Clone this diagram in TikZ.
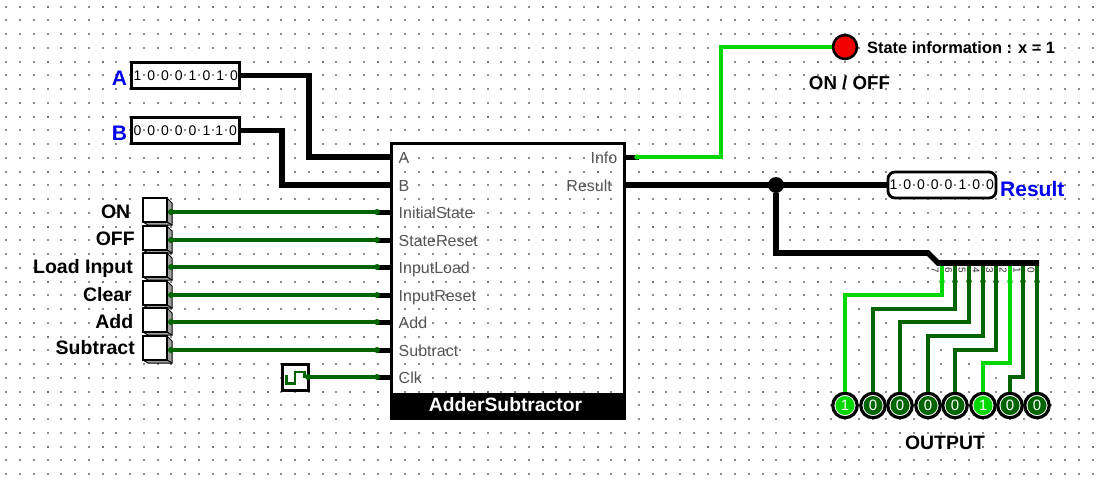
\documentclass[tikz,border=0pt]{standalone}
\usepackage{fontspec}
\setmainfont{Liberation Sans}
\newfontfamily\regfont[LetterSpace=43]{Liberation Sans}
\definecolor{wdark}{RGB}{0,100,0}
\definecolor{wlight}{RGB}{0,215,0}
\definecolor{pinblue}{RGB}{0,0,240}
\definecolor{pingrey}{RGB}{85,85,85}
\tikzset{
  bus/.style={line width=5.6pt,black},
  stub/.style={line width=5pt,black},
  wd/.style={line width=4.4pt,wdark},
  wl/.style={line width=4.4pt,wlight},
  reg/.style={draw,line width=2.8pt,minimum width=108pt,minimum height=26pt,inner sep=0pt},
  regtxt/.style={font=\fontsize{14}{14}\regfont,anchor=west,inner sep=0pt},
  bluelbl/.style={font=\fontsize{21}{21}\selectfont\bfseries,text=pinblue,inner sep=0pt},
  lbl/.style={font=\fontsize{18.7}{19}\selectfont\bfseries,inner sep=0pt},
  inlbl/.style={font=\fontsize{19.5}{20}\selectfont\bfseries,inner sep=0pt,anchor=base east},
  pinl/.style={font=\fontsize{16}{18}\selectfont,text=pingrey,anchor=base west,inner sep=0pt},
  pinr/.style={font=\fontsize{16}{18}\selectfont,text=pingrey,anchor=base east,inner sep=0pt},
  inbox/.style={draw,line width=1.6pt,fill=white,minimum width=24pt,minimum height=24pt,inner sep=0pt},
  led/.style={circle,draw,line width=3.2pt,fill=white,minimum size=24.5pt,inner sep=0pt},
  ledin/.style={circle,minimum size=19pt,inner sep=0pt,text=white,font=\fontsize{15}{15}\selectfont},
  bitl/.style={font=\fontsize{10}{10}\selectfont,rotate=-90,inner sep=0pt,text=black!80},
  jdot/.style={circle,fill,inner sep=0pt,minimum size=#1},
}
\newcommand{\inputpin}[5]{% name, y, label, label right x, label baseline y
  \fill[gray!75] (167,#2-14) -- (172,#2-9) -- (172,#2+13) -- (167,#2+10) -- cycle;
  \fill[gray!75] (143,#2+10) -- (167,#2+10) -- (172,#2+13) -- (148,#2+13) -- cycle;
  \draw[line width=1pt] (167,#2-14) -- (172,#2-9) -- (172,#2+13) -- (148,#2+13) -- (143,#2+10);
  \draw[line width=1pt] (167,#2+10) -- (172,#2+13);
  \node[inbox] (#1) at (155,#2-2) {};
  \coordinate (#1o) at (171,#2);
  \node[inlbl] at (#4,#5) {#3};
}
\begin{document}
\begin{tikzpicture}[x=1pt,y=-1pt]
\useasboundingbox (0,0) rectangle (1101,480);
\fill[white] (0,0) rectangle (1101,480);
% dotted grid
\foreach \i in {0,...,79}{
  \foreach \j in {0,...,34}{
    \pgfmathsetmacro{\gx}{round(6.45+13.75*\i)}
    \pgfmathsetmacro{\gy}{round(6.7+13.75*\j)}
    \pgfmathtruncatemacro{\dk}{(mod(\i,4)==3 && mod(\j,4)==0) ? 1 : 0}
    \ifnum\dk=1
      \fill[black!55] (\gx-1,\gy-1) rectangle (\gx+1,\gy+1);
    \else
      \fill[black!45] (\gx-.6,\gy-.6) rectangle (\gx+.6,\gy+.6);
    \fi
  }
}
% registers
\node[reg] (regA) at (185.5,75.5) {};
\node[regtxt] at (133.3,75.5) {10001010};
\node[reg] (regB) at (185.5,130.5) {};
\node[regtxt] at (133.3,130.5) {00000110};
\node[bluelbl] at (119.5,78) {A};
\node[bluelbl] at (119.5,133) {B};
% block
\node[draw,line width=3pt,minimum width=233pt,minimum height=275pt,inner sep=0pt] (blk) at (508,281) {};
\node[fill=black,minimum width=233pt,minimum height=26pt,inner sep=0pt] (title) at (508,405.5) {};
\node[text=white,font=\fontsize{19.3}{19}\selectfont\bfseries,inner sep=0pt] at (505.5,405) {AdderSubtractor};
% block pins
\foreach \nm/\yy/\tx in {pA/157/A,pB/185/B,pI/212/InitialState,pS/240/StateReset,pL/267/InputLoad,pR/295/InputReset,pAd/322/Add,pSu/350/Subtract,pC/377/Clk}{
  \coordinate (\nm) at (391,\yy);
  \coordinate (\nm s) at (377,\yy);
  \node[pinl] at (398.5,\yy+6.3) {\tx};
}
\coordinate (pInfo) at (625,157);
\coordinate (pRes) at (625,185);
\node[pinr] at (617.5,163.3) {Info};
\node[pinr] at (612,191.3) {Result};
\draw[stub] (pInfo) -- ++(14,0) coordinate (pInfoE);
\draw[stub] (pC) -- (pCs);
\foreach \p in {pI,pS,pL,pR,pAd,pSu}{\draw[stub] (\p) -- (\p s);}
% A, B buses
\draw[bus,line join=miter] (regA.east) -| (309,157) -- (pA);
\draw[bus,line join=miter] (regB.east) -| (282,185) -- (pB);
% inputs
\inputpin{iON}{212}{ON}{130.5}{218.7}
\inputpin{iOFF}{240}{OFF}{135}{245}
\inputpin{iLoad}{267}{Load Input}{133}{273}
\inputpin{iClr}{295}{Clear}{132}{301}
\inputpin{iAdd}{322}{Add}{133.5}{328}
\inputpin{iSub}{350}{Subtract}{135}{354}
\foreach \a/\b in {iON/pI,iOFF/pS,iLoad/pL,iClr/pR,iAdd/pAd,iSub/pSu}{
  \draw[wd] (\a o) -- (\b s);
  \fill[wdark] (\a o) circle (3);
  \fill[wdark] (\b s) circle (3);
}
% clock
\node[draw,line width=3pt,minimum size=26pt,inner sep=0pt] (clk) at (295,377) {};
\draw[wdark,line width=2.6pt] (286.7,375) -- (286.7,383.5) -- (295,383.5) -- (295,372) -- (304.5,372) -- (304.5,378);
\draw[wd] (clk.east) -- (pCs);
\fill[wdark] (308,377) circle (3);
\fill[wdark] (pCs) circle (3);
% info
\node[circle,draw,line width=2.6pt,fill=red!95!black,minimum size=24pt,inner sep=0pt] (ledR) at (845,47) {};
\draw[wl] (637,157) -- (721,157) -- (721,47) -- (ledR.west);
\fill[wlight] (637,157) circle (2.7);
\node[anchor=west,font=\fontsize{16.4}{16}\selectfont\bfseries,inner sep=0pt] at (867,47.5) {State information : x = 1};
\node[lbl] at (849.5,82.5) {ON / OFF};
% result
\node[draw,line width=2.8pt,rounded corners=7pt,minimum width=108pt,minimum height=26pt,inner sep=0pt] (regR) at (942,185) {};
\node[regtxt] at (889.3,185) {10000100};
\node[bluelbl,anchor=west] at (1000,189) {Result};
\draw[bus] (pRes) -- (regR.west);
\node[jdot=16pt] (jn) at (776,185) {};
% splitter
\coordinate (sp1) at (928,253);
\coordinate (sp2) at (938,263);
\coordinate (sp3) at (1039,263);
\draw[bus,line join=miter] (jn) -- (776,253) -- (sp1) -- (sp2) -- (sp3);
\foreach \n/\xx in {7/935,6/948.5,5/962,4/976,3/989.5,2/1003,1/1017,0/1031}{
  \node[bitl] at (\xx,270) {\n};
}
% output LEDs
\foreach \nm/\xx/\v/\c in {o7/845/1/wlight,o6/873/0/wdark,o5/900/0/wdark,o4/928/0/wdark,o3/955/0/wdark,o2/983/1/wlight,o1/1010/0/wdark,o0/1037/0/wdark}{
  \node[led] (\nm) at (\xx,405.5) {};
  \node[ledin,fill=\c] at (\xx,405.5) {\v};
}
% output wires
\foreach \st/\xx/\yy/\tg in {wl/942/295/o7,wd/955/309/o6,wd/969/322/o5,wd/983/336/o4,wd/996/350/o3,wl/1010/363/o2,wd/1023/377/o1,wd/1037/385/o0}{
  \draw[\st,line join=miter] (\xx,266) -- (\xx,\yy) -| (\tg.north);
  \fill[\st] (\xx,281.5) circle (2.8);
}
\node[font=\fontsize{19.4}{19}\selectfont\bfseries,inner sep=0pt] at (945,443) {OUTPUT};
\end{tikzpicture}
\end{document}
